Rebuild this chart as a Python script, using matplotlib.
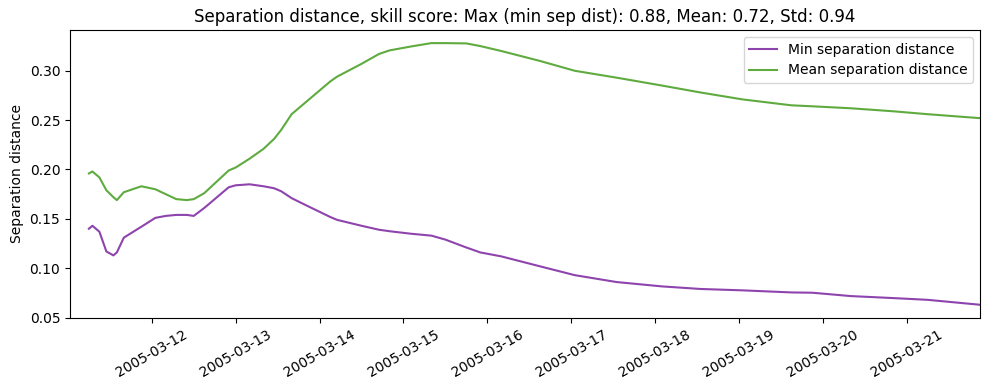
import numpy as np
import pandas as pd
import matplotlib
matplotlib.use("Agg")
import matplotlib.pyplot as plt
import matplotlib.dates as mdates

# Times and values
times = pd.to_datetime([
    "2005-03-11 06:00", "2005-03-11 07:00", "2005-03-11 09:00", "2005-03-11 11:00",
    "2005-03-11 13:00", "2005-03-11 14:00", "2005-03-11 16:00", "2005-03-11 21:00",
    "2005-03-12 01:00", "2005-03-12 04:00", "2005-03-12 07:00", "2005-03-12 10:00",
    "2005-03-12 12:00", "2005-03-12 15:00", "2005-03-12 22:00", "2005-03-13 00:00",
    "2005-03-13 04:00", "2005-03-13 08:00", "2005-03-13 11:00", "2005-03-13 13:00",
    "2005-03-13 16:00", "2005-03-13 20:00", "2005-03-14 03:00", "2005-03-14 05:00",
    "2005-03-14 12:00", "2005-03-14 17:00", "2005-03-14 20:00", "2005-03-15 02:00",
    "2005-03-15 08:00", "2005-03-15 12:00", "2005-03-15 18:00", "2005-03-15 22:00",
    "2005-03-16 04:00", "2005-03-16 15:00", "2005-03-17 01:00", "2005-03-17 13:00",
    "2005-03-18 02:00", "2005-03-18 13:00", "2005-03-19 01:00", "2005-03-19 15:00",
    "2005-03-19 21:00", "2005-03-20 08:00", "2005-03-20 20:00", "2005-03-21 06:00",
    "2005-03-21 21:00",
])

min_sep = [
    0.140, 0.143, 0.137, 0.117, 0.113, 0.116, 0.131, 0.142,
    0.151, 0.153, 0.154, 0.154, 0.153, 0.161, 0.182, 0.184,
    0.185, 0.183, 0.181, 0.178, 0.171, 0.164, 0.152, 0.149,
    0.143, 0.139, 0.1375, 0.135, 0.133, 0.129, 0.121, 0.116,
    0.112, 0.102, 0.093, 0.086, 0.0816, 0.079, 0.0776, 0.0755,
    0.0752, 0.0718, 0.0698, 0.068, 0.063,
]

mean_sep = [
    0.196, 0.198, 0.192, 0.179, 0.172, 0.169, 0.177, 0.183,
    0.180, 0.175, 0.170, 0.169, 0.170, 0.176, 0.199, 0.202,
    0.211, 0.221, 0.231, 0.240, 0.256, 0.268, 0.289, 0.294,
    0.307, 0.317, 0.3206, 0.3245, 0.328, 0.328, 0.3277, 0.325,
    0.320, 0.310, 0.300, 0.293, 0.285, 0.278, 0.271, 0.265,
    0.264, 0.262, 0.259, 0.256, 0.252,
]

fig, ax = plt.subplots(figsize=(9.89, 3.9), dpi=100)
ax.plot(times, min_sep, color="#8e44ad", label="Min separation distance")
ax.plot(times, mean_sep, color="#5fab3f", label="Mean separation distance")

ax.set_xlim(pd.Timestamp("2005-03-11 00:36"), times[-1])
ax.xaxis.set_major_locator(mdates.DayLocator())
ax.xaxis.set_major_formatter(mdates.DateFormatter("%Y-%m-%d"))
plt.setp(ax.get_xticklabels(), rotation=30)

ax.set_ylabel("Separation distance")
ax.set_title("Separation distance, skill score: Max (min sep dist): 0.88, Mean: 0.72, Std: 0.94")
ax.legend(loc="upper right")

fig.subplots_adjust(left=0.0708, right=0.991, top=0.923, bottom=0.185)
fig.savefig("out.png")
